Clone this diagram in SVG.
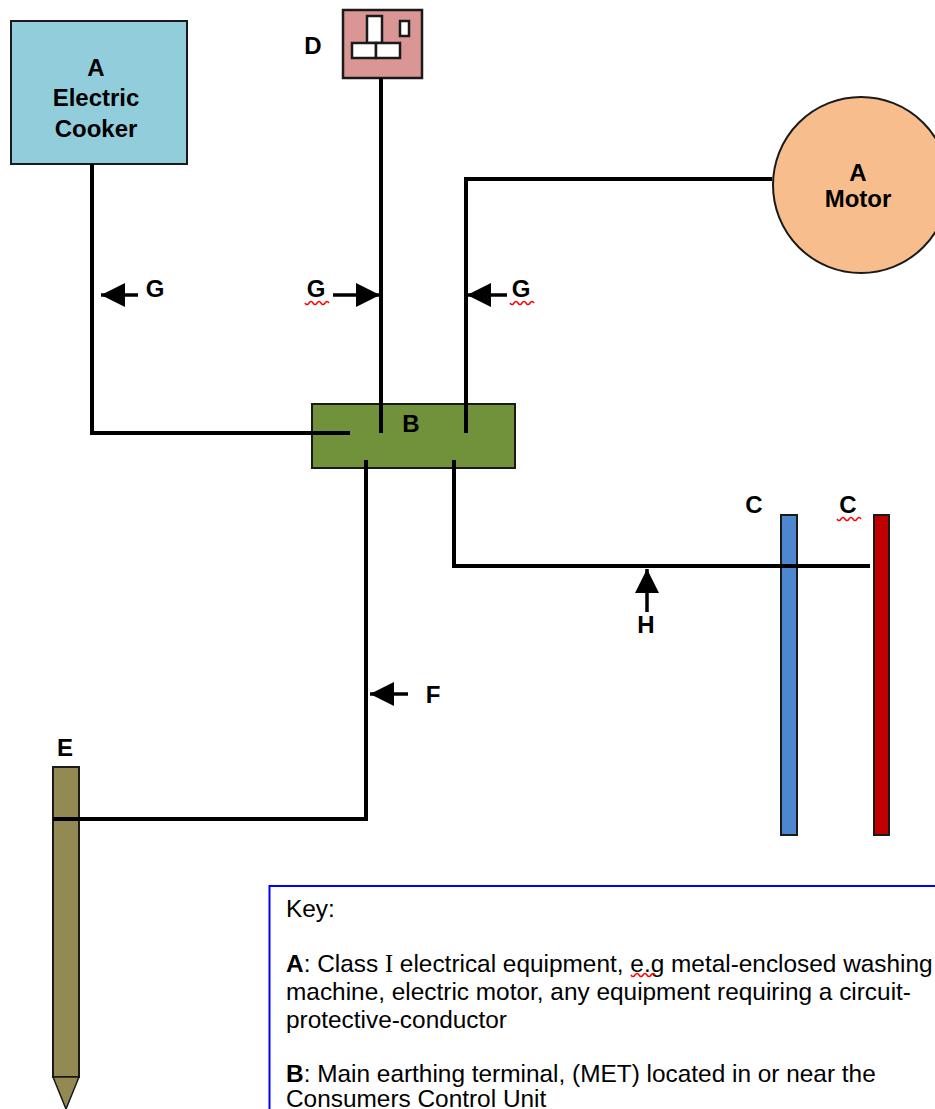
<svg xmlns="http://www.w3.org/2000/svg" width="935" height="1109" viewBox="0 0 935 1109">
<style>
text{font-family:"Liberation Sans",Arial,sans-serif;fill:#000}
.b{font-weight:bold;font-size:24px;text-anchor:middle}
.k{font-size:24.400px}
.s{stroke:#1a1a1a;stroke-width:2}
.t{stroke:#1a1a1a;stroke-width:2.500}
.w{fill:none;stroke:#000;stroke-width:4;stroke-linecap:butt}
.a{fill:none;stroke:#000;stroke-width:3.500}
.sq{fill:none;stroke:#f00;stroke-width:1.500}
</style>
<defs>
<marker id="ah" markerUnits="userSpaceOnUse" markerWidth="26" markerHeight="24" refX="24" refY="12" orient="auto"><path d="M0 0L24 12L0 24Z" fill="#000"/></marker>
<path id="sq" d="M0 0q2 3 4 0t4 0t4 0t4 0t4 0t4 0" class="sq"/>
</defs>
<g id="node-cooker"><rect x="11" y="21" width="176" height="143" fill="#92cddc" class="s"/>
<text class="b" x="96" y="76">A</text><text class="b" x="96" y="106">Electric</text><text class="b" x="96" y="137">Cooker</text></g>
<g id="node-socket"><rect x="343" y="10" width="79" height="68" fill="#d99694" class="t"/>
<rect x="367" y="16" width="15" height="27" fill="#fff" class="t"/><rect x="400" y="21" width="9" height="15" fill="#fff" class="t"/>
<rect x="352" y="43" width="24" height="15" fill="#fff" class="t"/><rect x="376" y="43" width="24" height="15" fill="#fff" class="t"/>
<text class="b" x="313" y="54">D</text></g>
<g id="node-motor"><circle cx="861" cy="185" r="88" fill="#f8bd8c" class="s"/>
<text class="b" x="858" y="181">A</text><text class="b" x="858" y="207">Motor</text></g>
<g id="node-met"><rect x="312" y="404" width="203" height="64" fill="#71923a" class="s"/><text class="b" x="411" y="432">B</text></g>
<g id="node-bar-blue"><rect x="781" y="515" width="16" height="320" fill="#4f86d0" class="s"/><text class="b" x="754" y="513">C</text></g>
<g id="node-bar-red"><rect x="874" y="515" width="15" height="320" fill="#c00000" class="s"/><text class="b" x="848" y="513">C</text><use href="#sq" x="837" y="519"/></g>
<g id="node-electrode"><rect x="53" y="767" width="26" height="310" fill="#938953" class="s"/>
<path d="M53 1077H79L66 1109Z" fill="#938953" stroke="#1a1a1a" stroke-width="1.500"/><text class="b" x="65" y="756">E</text></g>
<g id="connectors">
<path class="w" d="M92 164V433H350"/>
<path class="w" d="M381 78V433"/>
<path class="w" d="M772 179H466V433"/>
<path class="w" d="M366 460V819H53"/>
<path class="w" d="M454 460V566H870"/>
</g>
<g id="labels">
<path class="a" d="M138 295H101" marker-end="url(#ah)"/><text class="b" x="155" y="297">G</text>
<path class="a" d="M333 295H380" marker-end="url(#ah)"/><text class="b" x="316" y="297">G</text><use href="#sq" x="305" y="303"/>
<path class="a" d="M507 295H467" marker-end="url(#ah)"/><text class="b" x="521" y="297">G</text><use href="#sq" x="510" y="303"/>
<path class="a" d="M408 694H370" marker-end="url(#ah)"/><text class="b" x="433" y="703">F</text>
<path class="a" d="M647 612V569" marker-end="url(#ah)"/><text class="b" x="646" y="633">H</text>
</g>
<g id="node-key"><path d="M936 886H269.500V1110" fill="#fff" stroke="#0000ff" stroke-width="2"/>
<text class="k" x="286" y="917">Key:</text>
<text class="k" x="286" y="972"><tspan font-weight="bold">A</tspan>: Class <tspan font-family="Liberation Serif">I</tspan> electrical equipment, e.g metal-enclosed washing</text>
<text class="k" x="286" y="1000">machine, electric motor, any equipment requiring a circuit-</text>
<text class="k" x="286" y="1028">protective-conductor</text>
<text class="k" x="286" y="1082"><tspan font-weight="bold">B</tspan>: Main earthing terminal, (MET) located in or near the</text>
<text class="k" x="286" y="1107">Consumers Control Unit</text>
<use href="#sq" x="631" y="975"/></g>
</svg>
